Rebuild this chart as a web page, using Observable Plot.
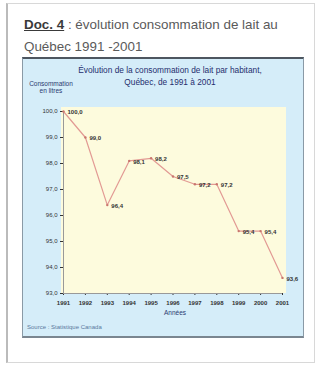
<!DOCTYPE html>
<html>
<head>
<meta charset="utf-8">
<script src="https://cdn.jsdelivr.net/npm/d3@7"></script>
<script src="https://cdn.jsdelivr.net/npm/@observablehq/plot@0.6"></script>
<style>
  html, body { margin: 0; padding: 0; background: #fff; }
  body { width: 318px; height: 365px; position: relative; overflow: hidden; font-family: "Liberation Sans", Arial, sans-serif; }
  .abs { position: absolute; }
  #frame { left: 6px; top: 3px; width: 309px; height: 360px; border: 1px solid #d8d8d8; border-left: 2px solid #bbb; box-sizing: border-box; }
  #title { left: 24px; top: 14px; width: 290px; font-size: 13.4px; line-height: 22px; color: #5a5a5a; white-space: nowrap; }
  #title b { color: #3a3a3a; text-decoration: underline; font-weight: bold; }
  #panel { left: 22px; top: 57px; width: 282px; height: 281px; background: #d5edf9; border: 1px solid #8a9aa6; border-top: 2px solid #4d5660; border-bottom: 2px solid #7a8690; box-sizing: border-box; }
  #plotbg { left: 61px; top: 107px; width: 225px; height: 186px; background: #fdfbdd; }
  #ctitle { left: 22px; top: 64px; width: 296px; text-align: center; font-size: 8.3px; line-height: 12px; color: #1f2d6e; }
  #ylab { left: 25px; top: 80px; font-size: 6.5px; line-height: 7px; color: #2a3a70; text-align: center; width: 52px; }
  #xlab { left: 150px; top: 309px; width: 50px; text-align: center; font-size: 6.5px; color: #2a3a70; }
  #source { left: 27px; top: 324px; font-size: 6px; color: #5a7aa0; }
  #chart { left: 0; top: 0; }
</style>
</head>
<body>
<div class="abs" id="frame"></div>
<div class="abs" id="title"><b>Doc. 4</b> : évolution consommation de lait au<br>Québec 1991 -2001</div>
<div class="abs" id="panel"></div>
<div class="abs" id="plotbg"></div>
<div class="abs" id="ctitle">Évolution de la consommation de lait par habitant,<br>Québec, de 1991 à 2001</div>
<div class="abs" id="ylab">Consommation<br>en litres</div>
<div class="abs" id="xlab">Années</div>
<div class="abs" id="source">Source : Statistique Canada</div>
<div class="abs" id="chart"></div>
<script>
const years = [1991, 1992, 1993, 1994, 1995, 1996, 1997, 1998, 1999, 2000, 2001];
const litres = [100.0, 99.0, 96.4, 98.1, 98.2, 97.5, 97.2, 97.2, 95.4, 95.4, 93.6];
const yTicks = [93, 94, 95, 96, 97, 98, 99, 100];

const data = years.map((y, i) => ({year: y, value: litres[i]}));
const fmt = v => v.toFixed(1).replace(".", ",");

const chart = Plot.plot({
  width: 318,
  height: 365,
  marginLeft: 63,
  marginRight: 36,
  marginTop: 111,
  marginBottom: 72,
  style: {background: "transparent", fontFamily: "Liberation Sans, Arial, sans-serif", fontSize: "6px", color: "#333"},
  x: {domain: [1991, 2001], ticks: years, tickFormat: d => String(d), label: null, tickSize: 2, tickPadding: 5},
  y: {domain: [93, 100], ticks: yTicks, tickFormat: fmt, label: null, tickSize: 3, tickPadding: 3},
  marks: [
    Plot.ruleX([1991], {stroke: "#999", strokeWidth: 1}),
    Plot.ruleY([93], {stroke: "#999", strokeWidth: 1}),
    Plot.line(data, {x: "year", y: "value", stroke: "#e29a94", strokeWidth: 1.2}),
    Plot.dot(data, {x: "year", y: "value", r: 1.2, fill: "#c9766e", stroke: "none"}),
    Plot.text(data, {x: "year", y: "value", text: d => fmt(d.value), dx: 4, dy: 1, textAnchor: "start", fill: "#333", fontSize: 6, fontWeight: "bold"})
  ]
});
chart.querySelectorAll("[aria-label='x-axis tick label'] text").forEach(t => { t.setAttribute("font-weight", "bold"); t.setAttribute("fill", "#333"); });
document.getElementById("chart").appendChild(chart);
</script>
</body>
</html>
